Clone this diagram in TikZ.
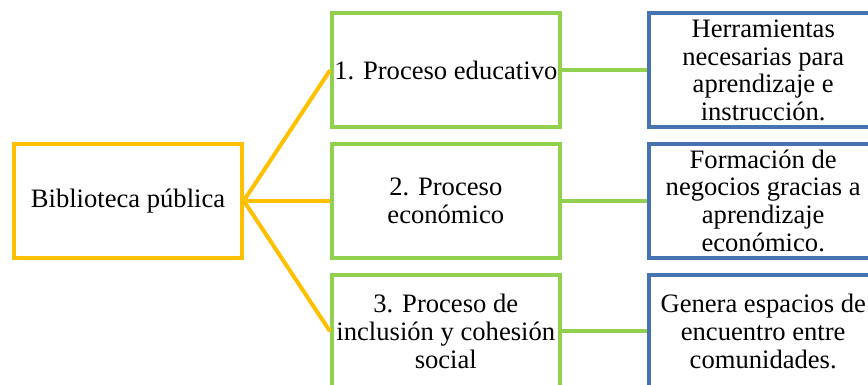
\documentclass[tikz,border=0pt]{standalone}
\usepackage{fontspec}
\setmainfont{Liberation Serif}
\definecolor{Y}{RGB}{255,192,0}
\definecolor{G}{RGB}{146,208,80}
\definecolor{B}{RGB}{70,116,178}
\tikzset{
  box/.style={draw, line width=2pt, minimum width=113.8pt, minimum height=56.8pt,
    inner sep=0pt, align=center, font=\fontsize{13.3}{13.9}\selectfont},
  rootbox/.style={box, draw=Y},
  procbox/.style={box, draw=G},
  descbox/.style={box, draw=B},
  link/.style={line width=2pt}
}
\begin{document}
\begin{tikzpicture}[x=0.5pt, y=-0.5pt]
\useasboundingbox (0,0) rectangle (868,385);
% centre
\node[rootbox] (bib) at (128,200.8) {Biblioteca pública};
% procesos
\node[procbox] (proc1) at (445.8,70.3) {1. Proceso educativo};
\node[procbox] (proc2) at (445.8,200.8) {2. Proceso\\económico};
\node[procbox] (proc3) at (445.8,331.3) {3. Proceso de\\inclusión y cohesión\\social};
% resultados
\node[descbox] (desc1) at (763.2,70.3) {Herramientas\\necesarias para\\aprendizaje e\\instrucción.};
\node[descbox] (desc2) at (763.2,200.8) {Formación de\\negocios gracias a\\aprendizaje\\económico.};
\node[descbox] (desc3) at (763.2,331.3) {Genera espacios de\\encuentro entre\\comunidades.};
\foreach \i in {1,2,3}{
  \draw[link, Y] (bib.east) -- (proc\i.west);
  \draw[link, G] (proc\i.east) -- (desc\i.west);
}
\end{tikzpicture}
\end{document}
